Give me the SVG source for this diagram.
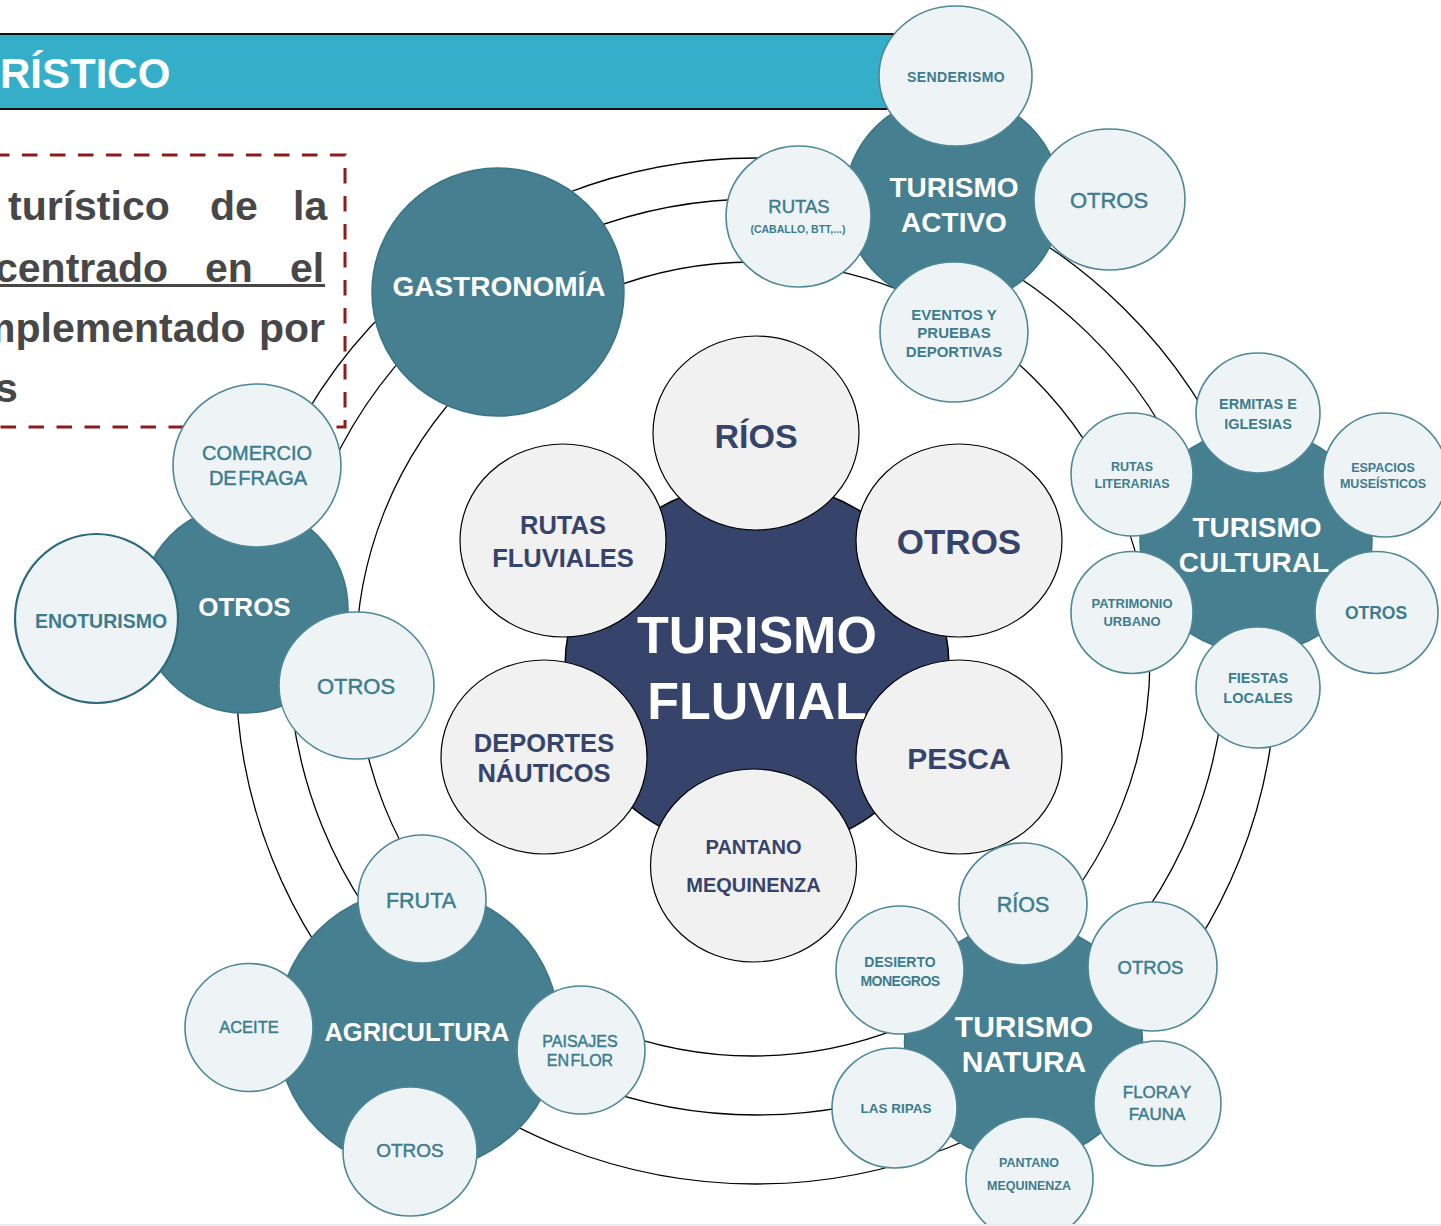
<svg xmlns="http://www.w3.org/2000/svg" width="1441" height="1226" viewBox="0 0 1441 1226">
<style>
.ring{fill:none;stroke:#000;stroke-width:1.3}
.teal{fill:#467f8f;stroke:#3a7585;stroke-width:1.5}
.lc{fill:#eef4f5;stroke:#4f8796;stroke-width:1.6}
.pet{fill:#f1f1f1;stroke:#000;stroke-width:1.2}
.navy{fill:#36436b;stroke:#000;stroke-width:1.5}
text{font-family:"Liberation Sans",Arial,sans-serif;text-anchor:middle}
.w{fill:#fff;font-weight:bold}
.n{fill:#36436b;font-weight:bold}
.b{fill:#3d7c8e;font-weight:bold}
.m{fill:#3d7c8e;stroke:#3d7c8e;stroke-width:0.45}
.tx{fill:#474747;font-weight:bold;font-size:41px;text-anchor:start}
</style>
<rect x="0" y="0" width="1441" height="1226" fill="#fff"/>
<g id="connectors">
<ellipse class="ring" cx="756" cy="671" rx="520" ry="513"/>
<ellipse class="ring" cx="757" cy="657" rx="468" ry="458"/>
<circle class="ring" cx="753" cy="659" r="397"/>
</g>
<g id="header">
<rect x="-5" y="34" width="910" height="75" fill="#35afc9" stroke="#111" stroke-width="2"/>
<text x="0" y="88" style="font-size:42px;font-weight:bold;fill:#fff;text-anchor:start">RÍSTICO</text>
</g>
<g id="textbox">
<path d="M -6 155 H 345 V 427 H -6" fill="none" stroke="#8b1c1c" stroke-width="3" stroke-dasharray="15.5 12.5"/>
<text class="tx" x="8" y="220">turístico</text>
<text class="tx" x="210" y="220">de</text>
<text class="tx" x="293" y="220">la</text>
<text class="tx" x="-5" y="282">centrado</text>
<text class="tx" x="205" y="282">en</text>
<text class="tx" x="290" y="282">el</text>
<line x1="0" y1="285.5" x2="325" y2="285.5" stroke="#474747" stroke-width="3"/>
<text class="tx" x="-21" y="342">mplementado</text>
<text class="tx" x="259" y="342">por</text>
<text class="tx" x="-5" y="402">s</text>
</g>
<g id="gastronomia">
<ellipse class="teal" cx="498" cy="292" rx="126" ry="124"/>
<text class="w" x="499" y="296" style="font-size:28px">GASTRONOMÍA</text>
</g>
<g id="turismo-fluvial">
<ellipse class="navy" cx="757" cy="667" rx="192" ry="185"/>
<text class="w" x="757" y="653" style="font-size:52px">TURISMO</text>
<text class="w" x="757" y="719" style="font-size:52px">FLUVIAL</text>
</g>
<g id="fluvial-rios"><ellipse class="pet" cx="756" cy="433" rx="103" ry="97"/><text class="n" x="756" y="448" style="font-size:34px">RÍOS</text></g>
<g id="fluvial-otros"><ellipse class="pet" cx="959" cy="540.5" rx="103" ry="96.5"/><text class="n" x="959" y="554" style="font-size:35px">OTROS</text></g>
<g id="fluvial-pesca"><ellipse class="pet" cx="959" cy="757" rx="103" ry="97"/><text class="n" x="959" y="769" style="font-size:30px">PESCA</text></g>
<g id="fluvial-pantano"><ellipse class="pet" cx="753.5" cy="865.5" rx="103" ry="96.5"/><text class="n" x="753.5" y="854" style="font-size:20px">PANTANO</text><text class="n" x="753.5" y="892" style="font-size:20px">MEQUINENZA</text></g>
<g id="fluvial-deportes"><ellipse class="pet" cx="544" cy="757" rx="103" ry="97"/><text class="n" x="544" y="752" style="font-size:25.5px">DEPORTES</text><text class="n" x="544" y="782" style="font-size:25.5px">NÁUTICOS</text></g>
<g id="fluvial-rutas"><ellipse class="pet" cx="563" cy="540.5" rx="103" ry="96.5"/><text class="n" x="563" y="534" style="font-size:25.5px">RUTAS</text><text class="n" x="563" y="567" style="font-size:25.5px">FLUVIALES</text></g>
<g id="turismo-activo">
<ellipse class="teal" cx="953" cy="200" rx="108" ry="105"/>
<text class="w" x="954" y="197" style="font-size:28px">TURISMO</text>
<text class="w" x="954" y="232" style="font-size:28px">ACTIVO</text>
</g>
<g id="activo-senderismo"><ellipse class="lc" cx="955.5" cy="76" rx="76.5" ry="70"/><text class="b" x="956" y="82" style="font-size:14px;letter-spacing:0.4px">SENDERISMO</text></g>
<g id="activo-otros"><ellipse class="lc" cx="1109.5" cy="199.5" rx="75.5" ry="70.5"/><text class="m" x="1109" y="208" style="font-size:22px">OTROS</text></g>
<g id="activo-rutas"><ellipse class="lc" cx="798.5" cy="216.5" rx="72.5" ry="70.5"/><text class="m" x="799" y="213" style="font-size:18.5px">RUTAS</text><text class="b" x="798" y="233" style="font-size:10.5px">(CABALLO, BTT,...)</text></g>
<g id="activo-eventos"><ellipse class="lc" cx="954" cy="332" rx="74" ry="70"/><text class="b" x="954" y="320" style="font-size:15px">EVENTOS Y</text><text class="b" x="954" y="338" style="font-size:15px">PRUEBAS</text><text class="b" x="954" y="357" style="font-size:15px">DEPORTIVAS</text></g>
<g id="turismo-cultural">
<ellipse class="teal" cx="1256" cy="541" rx="116" ry="112"/>
<text class="w" x="1257" y="537" style="font-size:28px">TURISMO</text>
<text class="w" x="1254" y="572" style="font-size:28px">CULTURAL</text>
</g>
<g id="cultural-ermitas"><ellipse class="lc" cx="1258" cy="413" rx="62" ry="60"/><text class="b" x="1258" y="409" style="font-size:14.5px">ERMITAS E</text><text class="b" x="1258" y="429" style="font-size:14.5px">IGLESIAS</text></g>
<g id="cultural-espacios"><ellipse class="lc" cx="1385" cy="475" rx="62" ry="62"/><text class="b" x="1383" y="472" style="font-size:12.5px">ESPACIOS</text><text class="b" x="1383" y="488" style="font-size:12.5px">MUSEÍSTICOS</text></g>
<g id="cultural-rutas"><ellipse class="lc" cx="1132" cy="474.5" rx="61" ry="61.5"/><text class="b" x="1132" y="471" style="font-size:12.5px">RUTAS</text><text class="b" x="1132" y="488" style="font-size:12.5px">LITERARIAS</text></g>
<g id="cultural-patrimonio"><ellipse class="lc" cx="1132" cy="612.5" rx="61" ry="61"/><text class="b" x="1132" y="608" style="font-size:13px">PATRIMONIO</text><text class="b" x="1132" y="626" style="font-size:13px">URBANO</text></g>
<g id="cultural-otros"><ellipse class="lc" cx="1376.5" cy="612.5" rx="61.5" ry="61"/><text class="b" x="1376" y="619" style="font-size:17.5px">OTROS</text></g>
<g id="cultural-fiestas"><ellipse class="lc" cx="1258" cy="687.5" rx="62" ry="60.5"/><text class="b" x="1258" y="683" style="font-size:14.5px">FIESTAS</text><text class="b" x="1258" y="703" style="font-size:14.5px">LOCALES</text></g>
<g id="otros-grupo">
<circle class="teal" cx="244" cy="609" r="104"/>
<text class="w" x="244.5" y="616" style="font-size:26px">OTROS</text>
</g>
<g id="otros-comercio"><ellipse class="lc" cx="257" cy="465.5" rx="84" ry="81.5"/><text class="m" x="257" y="460" style="font-size:20px">COMERCIO</text><text class="m" x="258" y="485" style="font-size:20px;word-spacing:-4px">DE FRAGA</text></g>
<g id="otros-enoturismo"><ellipse class="lc" cx="96.5" cy="618.5" rx="81.5" ry="84.5" style="stroke:#2c6a7b;stroke-width:2.2"/><text class="b" x="101" y="628" style="font-size:19.5px">ENOTURISMO</text></g>
<g id="otros-otros"><ellipse class="lc" cx="356.5" cy="685.5" rx="77.5" ry="73.5"/><text class="m" x="356" y="694" style="font-size:22px">OTROS</text></g>
<g id="turismo-natura">
<circle class="teal" cx="1023.5" cy="1042" r="119"/>
<text class="w" x="1024" y="1037" style="font-size:30px">TURISMO</text>
<text class="w" x="1024" y="1072" style="font-size:30px">NATURA</text>
</g>
<g id="natura-desierto"><ellipse class="lc" cx="900" cy="970" rx="64" ry="64"/><text class="b" x="900" y="967" style="font-size:14px">DESIERTO</text><text class="b" x="900" y="986" style="font-size:14px;letter-spacing:-0.5px">MONEGROS</text></g>
<g id="natura-rios"><ellipse class="lc" cx="1023" cy="904" rx="64" ry="61"/><text class="m" x="1023" y="912" style="font-size:21.5px">RÍOS</text></g>
<g id="natura-otros"><ellipse class="lc" cx="1152.5" cy="966.5" rx="64.5" ry="64.5"/><text class="m" x="1150.5" y="974" style="font-size:18.5px">OTROS</text></g>
<g id="natura-ripas"><ellipse class="lc" cx="894.5" cy="1108" rx="62.5" ry="60"/><text class="b" x="896" y="1113" style="font-size:13.5px">LAS RIPAS</text></g>
<g id="natura-flora"><ellipse class="lc" cx="1157.5" cy="1103.5" rx="63.5" ry="62.5"/><text class="m" x="1157" y="1098" style="font-size:17px;word-spacing:-3px">FLORA Y</text><text class="m" x="1157" y="1120" style="font-size:17px">FAUNA</text></g>
<g id="natura-pantano"><ellipse class="lc" cx="1029.5" cy="1179" rx="63.5" ry="62"/><text class="b" x="1029" y="1167" style="font-size:12.5px">PANTANO</text><text class="b" x="1029" y="1190" style="font-size:12.5px">MEQUINENZA</text></g>
<g id="agricultura">
<circle class="teal" cx="418" cy="1030" r="141"/>
<text class="w" x="417" y="1041" style="font-size:25.5px">AGRICULTURA</text>
</g>
<g id="agri-fruta"><ellipse class="lc" cx="422" cy="899" rx="64" ry="64"/><text class="m" x="421" y="908" style="font-size:21.5px">FRUTA</text></g>
<g id="agri-aceite"><ellipse class="lc" cx="249" cy="1027.5" rx="64" ry="64"/><text class="m" x="249" y="1033" style="font-size:16.5px">ACEITE</text></g>
<g id="agri-paisajes"><ellipse class="lc" cx="581" cy="1050" rx="64" ry="64"/><text class="m" x="580" y="1047" style="font-size:16px">PAISAJES</text><text class="m" x="580" y="1066" style="font-size:16px;word-spacing:-3px">EN FLOR</text></g>
<g id="agri-otros"><ellipse class="lc" cx="410" cy="1151.5" rx="67" ry="64.5"/><text class="m" x="410" y="1157" style="font-size:19px">OTROS</text></g>
<rect x="0" y="1224" width="1441" height="2" fill="#ececec"/>
</svg>
